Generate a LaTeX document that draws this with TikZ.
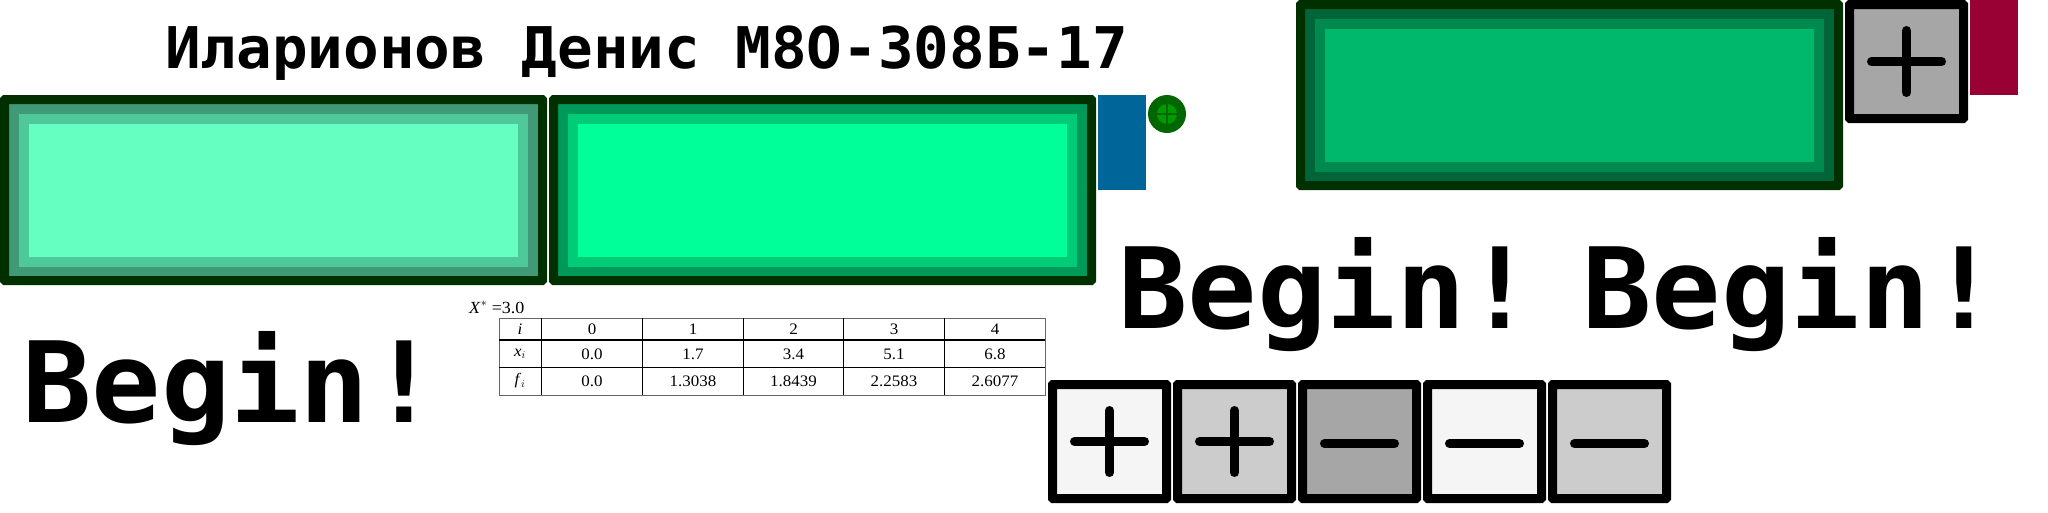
\documentclass[tikz,border=0pt]{standalone}
\usepackage{fontspec}
\setmainfont{Liberation Serif}
\setmonofont[FakeStretch=1.03]{DejaVu Sans Mono}
\newfontfamily\tablefont[FakeStretch=1.06]{Liberation Serif}
\definecolor{frame}{HTML}{002F00}
\definecolor{mintA}{HTML}{409A78}
\definecolor{mintB}{HTML}{50C99A}
\definecolor{mintC}{HTML}{66FFC2}
\definecolor{brightA}{HTML}{009959}
\definecolor{brightB}{HTML}{00CC77}
\definecolor{brightC}{HTML}{00FF99}
\definecolor{darkA}{HTML}{006639}
\definecolor{darkB}{HTML}{008A50}
\definecolor{darkC}{HTML}{00B86B}
\definecolor{lightbtn}{HTML}{F5F5F5}
\definecolor{midbtn}{HTML}{CCCCCC}
\definecolor{darkbtn}{HTML}{A6A6A6}
\definecolor{blueside}{HTML}{006699}
\definecolor{redside}{HTML}{990033}
\definecolor{knobA}{HTML}{006600}
\definecolor{knobB}{HTML}{009900}
\tikzset{
  panelbox/.style={draw=frame, line width=9pt, rounded corners=0.5pt, inner sep=0pt,
    minimum width=538pt, minimum height=181pt, anchor=north west},
  ringbox/.style={inner sep=0pt, minimum width=509pt, minimum height=153pt},
  corebox/.style={inner sep=0pt, minimum width=489pt, minimum height=133pt},
  btnbox/.style={draw=black, line width=9pt, rounded corners=0.5pt, inner sep=0pt,
    minimum width=114pt, minimum height=114pt, anchor=north west},
  sidebar/.style={inner sep=0pt, minimum width=48pt, minimum height=95pt, anchor=north west},
  signline/.style={line width=9pt, line cap=round},
  bigword/.style={inner sep=0pt, anchor=base west, font=\ttfamily\bfseries\fontsize{112}{120}\selectfont},
  cell/.style={inner sep=0pt, font=\tablefont\fontsize{16}{17}\selectfont},
  gridline/.style={line width=1.2pt, black}
}
\newcommand{\gamepanel}[6]{
  \node[panelbox, fill=#3] (#1) at (#2) {};
  \node[ringbox, fill=#4] (#1ring) at (#1.center) {};
  \node[corebox, fill=#5] (#1core) at (#1.center) {};
}
\newcommand{\plussign}[1]{
  \draw[signline] ([xshift=-35pt]#1.center) -- ([xshift=35pt]#1.center);
  \draw[signline] ([yshift=-31pt]#1.center) -- ([yshift=31pt]#1.center);
}
\newcommand{\minussign}[1]{
  \draw[signline] ([xshift=-35pt,yshift=-2pt]#1.center) -- ([xshift=35pt,yshift=-2pt]#1.center);
}
\begin{document}
\begin{tikzpicture}[x=1pt, y=-1pt]
  \useasboundingbox (0,0) rectangle (2048,512);
  % title
  \node[inner sep=0pt, anchor=base west, font=\ttfamily\bfseries\fontsize{57.5}{60}\selectfont] (title) at (165,68)
    {Иларионов Денис М8О-308Б-17};
  % panels
  \gamepanel{panelA}{0,95}{mintA}{mintB}{mintC}{}
  \gamepanel{panelB}{549,95}{brightA}{brightB}{brightC}{}
  \gamepanel{panelC}{1296,0}{darkA}{darkB}{darkC}{}
  \node[sidebar, fill=blueside] (bluebar) at (1098,95) {};
  \node[sidebar, fill=redside] (redbar) at (1970,0) {};
  % knob
  \node[circle, fill=knobA, inner sep=0pt, minimum size=38pt] (knob) at (1167,114) {};
  \node[circle, fill=knobB, inner sep=0pt, minimum size=20pt] (knobin) at (knob.center) {};
  \draw[knobA, line width=2.5pt] (knobin.north) -- (knobin.south);
  \draw[knobA, line width=2.5pt] (knobin.west) -- (knobin.east);
  % buttons
  \node[btnbox, fill=darkbtn] (btnTop) at (1845,0) {};
  \plussign{btnTop}
  \node[btnbox, fill=lightbtn] (btnA) at (1048,380) {};
  \node[btnbox, fill=midbtn] (btnB) at (1173,380) {};
  \node[btnbox, fill=darkbtn] (btnC) at (1298,380) {};
  \node[btnbox, fill=lightbtn] (btnD) at (1423,380) {};
  \node[btnbox, fill=midbtn] (btnE) at (1548,380) {};
  \plussign{btnA}
  \plussign{btnB}
  \minussign{btnC}
  \minussign{btnD}
  \minussign{btnE}
  % words
  \node[bigword] (beginA) at (22,422) {Begin!};
  \node[bigword] (beginB) at (1118,328) {Begin!};
  \node[bigword] (beginC) at (1582,328) {Begin!};
  % table
  \node[cell, anchor=base west, font=\tablefont\fontsize{17}{18}\selectfont] (xstar) at (469,313) {\textit{X}$^{*}$ =3.0};
  \node[draw=black!60, line width=1.4pt, inner sep=0pt, minimum width=546pt, minimum height=77pt, anchor=north west] (tbl) at (499,318) {};
  \foreach \cx in {541.5,642.7,743.5,843.5,944.4}
    \draw[gridline] (\cx,318) -- (\cx,395);
  \foreach \ry in {340,367.7}
    \draw[gridline] (499,\ry) -- (1045,\ry);
  \node[cell] (hi) at (520,329) {\textit{i}};
  \node[cell] (hx) at (520,354) {\textit{x}$_{i}$};
  \node[cell] (hf) at (520,381) {\textit{f}$_{i}$};
  \foreach \cx/\ci/\vx/\vf in {592/0/0.0/0.0, 693/1/1.7/1.3038, 793.5/2/3.4/1.8439, 894/3/5.1/2.2583, 995/4/6.8/2.6077}{
    \node[cell] (c\ci) at (\cx,329) {\ci};
    \node[cell] (x\ci) at (\cx,354) {\vx};
    \node[cell] (f\ci) at (\cx,381) {\vf};
  }
\end{tikzpicture}
\end{document}
